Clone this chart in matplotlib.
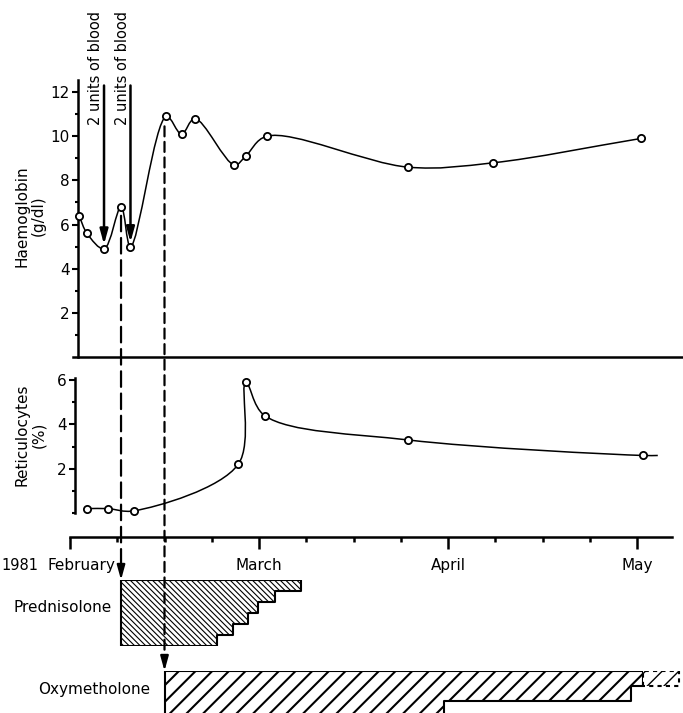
import numpy as np
import matplotlib
matplotlib.use("Agg")
import matplotlib.pyplot as plt
from matplotlib.path import Path
from matplotlib.patches import PathPatch, ConnectionPatch

plt.rcParams["font.family"] = ["DejaVu Sans"]
plt.rcParams["font.size"] = 11

# ---- data (x in months after 1 February 1981) ----
hb_x = [0.048, 0.09, 0.18, 0.27, 0.32, 0.51, 0.59, 0.66, 0.87, 0.93, 1.04, 1.79, 2.24, 3.02]
hb_y = [6.4, 5.6, 4.9, 6.8, 5.0, 10.9, 10.1, 10.8, 8.7, 9.1, 10.0, 8.6, 8.8, 9.9]
blood_idx = [2, 4]  # transfusions: 2 units of blood

retic_x = [0.09, 0.20, 0.34, 0.89, 0.93, 1.03, 1.79, 3.03]
retic_y = [0.2, 0.2, 0.1, 2.2, 5.9, 4.4, 3.3, 2.6]
retic_end = (3.11, 2.6)  # curve continues past the last sample

month_names = ["February", "March", "April", "May"]
month_pos = [0, 1, 2, 3]

pred_start = [0.27, 0.78, 0.86, 0.94, 0.995, 1.085]
pred_dose = [60, 50, 40, 30, 20, 10]
pred_stop = 1.22

oxy_start = [0.50, 1.98, 2.97]
oxy_dose = [150, 100, 50]
oxy_stop = 3.03
oxy_planned = (3.03, 3.22, 50)  # dashed continuation

# ---- figure layout in pixels ----
W, H = 683, 713
X0, PXM = 70, 189.0  # pixel of 1 Feb, pixels per month
fig = plt.figure(figsize=(W / 100, H / 100), dpi=100)


def add_panel(left, right, top, bottom):
    ax = fig.add_axes([left / W, 1 - bottom / H, (right - left) / W, (bottom - top) / H])
    ax.set_xlim((left - X0) / PXM, (right - X0) / PXM)
    ax.patch.set_alpha(0)
    return ax


def smooth_path(xs, ys, sx, sy, alpha=0.5):
    # centripetal Catmull-Rom, drawn as cubic Bezier segments
    P = np.column_stack([np.asarray(xs) * sx, np.asarray(ys) * sy])
    n = len(P)
    ext = np.vstack([2 * P[0] - P[1], P, 2 * P[-1] - P[-2]])
    verts, codes = [P[0]], [Path.MOVETO]
    for i in range(1, n):
        p0, p1, p2, p3 = ext[i - 1], ext[i], ext[i + 1], ext[i + 2]
        d1 = max(np.linalg.norm(p1 - p0) ** alpha, 1e-6)
        d2 = max(np.linalg.norm(p2 - p1) ** alpha, 1e-6)
        d3 = max(np.linalg.norm(p3 - p2) ** alpha, 1e-6)
        b1 = (d1**2 * p2 - d2**2 * p0 + (2 * d1**2 + 3 * d1 * d2 + d2**2) * p1) / (3 * d1 * (d1 + d2))
        b2 = (d3**2 * p1 - d2**2 * p3 + (2 * d3**2 + 3 * d3 * d2 + d2**2) * p2) / (3 * d3 * (d3 + d2))
        verts += [b1, b2, p2]
        codes += [Path.CURVE4] * 3
    verts = np.array(verts) / np.array([sx, sy])
    return Path(verts, codes)


marker_kw = dict(linestyle="none", marker="o", ms=5.2, mfc="white", mec="black", mew=1.3, zorder=4)

# ---- Haemoglobin ----
ax_hb = add_panel(73, 683, 80, 357)
ax_hb.set_ylim(0, 12.55)
for s in ["top", "right"]:
    ax_hb.spines[s].set_visible(False)
ax_hb.spines["left"].set_position(("data", (78 - X0) / PXM))
ax_hb.spines["left"].set_linewidth(1.8)
ax_hb.spines["bottom"].set_linewidth(1.8)
ax_hb.set_xticks([])
ax_hb.set_yticks([2, 4, 6, 8, 10, 12])
ax_hb.set_yticks([1, 3, 5, 7, 9, 11], minor=True)
ax_hb.tick_params(axis="y", which="major", length=4, width=1.5, pad=2, labelsize=11)
ax_hb.tick_params(axis="y", which="minor", length=2.5, width=1.5)
ax_hb.set_ylabel("Haemoglobin\n(g/dl)", fontsize=11, linespacing=1.1)
ax_hb.yaxis.set_label_coords((46 - 73) / 610, 0.51)

ax_hb.add_patch(PathPatch(smooth_path(hb_x, hb_y, PXM, 22.1), fill=False, lw=1.1, color="black"))
ax_hb.plot(hb_x, hb_y, **marker_kw)

for i in blood_idx:
    bx = hb_x[i]
    ax_hb.annotate("", xy=(bx, hb_y[i] + 0.2), xytext=(bx, 12.3),
                   arrowprops=dict(arrowstyle="-|>,head_length=0.8,head_width=0.22",
                                   lw=1.8, color="black", shrinkA=0, shrinkB=0),
                   annotation_clip=False)
    ax_hb.text(bx - 0.004, 10.5, "2 units of blood", rotation=90, ha="right", va="bottom",
               fontsize=10.5, clip_on=False)

# ---- Reticulocytes + time axis ----
ax_rt = add_panel(70, 672, 378, 537)
ax_rt.set_ylim(-1.083, 6.1)
for s in ["top", "right"]:
    ax_rt.spines[s].set_visible(False)
ax_rt.spines["left"].set_position(("data", (75 - X0) / PXM))
ax_rt.spines["left"].set_bounds(0, 6.1)
ax_rt.spines["left"].set_linewidth(1.8)
ax_rt.spines["bottom"].set_linewidth(1.8)
ax_rt.set_yticks([2, 4, 6])
ax_rt.set_yticks([0, 1, 3, 5], minor=True)
ax_rt.tick_params(axis="y", which="major", length=4, width=1.5, pad=2, labelsize=11)
ax_rt.tick_params(axis="y", which="minor", length=2.5, width=1.5)
ax_rt.set_ylabel("Reticulocytes\n(%)", fontsize=11, linespacing=1.1)
ax_rt.yaxis.set_label_coords((46 - 70) / 602, 0.64)

ax_rt.set_xticks(month_pos)
ax_rt.set_xticks([m + q for m in month_pos[:3] for q in (0.25, 0.5, 0.75)], minor=True)
ax_rt.tick_params(axis="x", which="major", length=8.5, width=1.8, labelbottom=False)
ax_rt.tick_params(axis="x", which="minor", length=3.5, width=1.8)

label_x = list(month_pos)
label_x[0] = 0.058
for name, lx in zip(month_names, label_x):
    ax_rt.text(lx, -2.35, name, ha="center", va="center", fontsize=11)
ax_rt.text(-0.265, -2.35, "1981", ha="center", va="center", fontsize=10.5)

ax_rt.add_patch(PathPatch(smooth_path(retic_x + [retic_end[0]], retic_y + [retic_end[1]], PXM, 22.1),
                          fill=False, lw=1.1, color="black"))
ax_rt.plot(retic_x, retic_y, **marker_kw)

# ---- Prednisolone ----
ax_pr = add_panel(70, 683, 580, 646)
ax_pr.set_ylim(60, 0)
ax_pr.axis("off")
pc = ax_pr.fill_between(pred_start + [pred_stop], 0, pred_dose + [pred_dose[-1]], step="post",
                        facecolor="white", edgecolor="black", hatch="\\" * 6, lw=1.5)
if hasattr(pc, "set_hatch_linewidth"):
    pc.set_hatch_linewidth(0.8)
ax_pr.text((112 - X0) / PXM, 25, "Prednisolone", ha="right", va="center", fontsize=11)

# ---- Oxymetholone ----
ax_ox = add_panel(70, 683, 671, 713)
ax_ox.set_ylim(140, 0)
ax_ox.axis("off")
oc = ax_ox.fill_between(oxy_start + [oxy_stop], 0, oxy_dose + [oxy_dose[-1]], step="post",
                        facecolor="white", edgecolor="black", hatch="//", lw=1.5)
if hasattr(oc, "set_hatch_linewidth"):
    oc.set_hatch_linewidth(1.5)
dc = ax_ox.fill_between([oxy_planned[0], oxy_planned[1]], 0, oxy_planned[2],
                        facecolor="white", edgecolor="black", hatch="//", lw=1.5, linestyle=(0, (2, 2)))
if hasattr(dc, "set_hatch_linewidth"):
    dc.set_hatch_linewidth(1.0)
ax_ox.text((150 - X0) / PXM, 63, "Oxymetholone", ha="right", va="center", fontsize=11)

# ---- treatment start markers (dashed drop lines) ----
pred_x, oxy_x = pred_start[0], oxy_start[0]
cp1 = ConnectionPatch(xyA=(pred_x, 6.4), coordsA=ax_hb.transData,
                      xyB=(pred_x, -13), coordsB=ax_pr.transData,
                      lw=1.6, color="black", linestyle=(0, (7, 3)))
fig.add_artist(cp1)
ax_pr.annotate("", xy=(pred_x, 0), xytext=(pred_x, -14),
               arrowprops=dict(arrowstyle="-|>,head_length=0.8,head_width=0.22",
                               lw=1.5, color="black", shrinkA=0, shrinkB=0),
               annotation_clip=False)

cp2 = ConnectionPatch(xyA=(oxy_x, 10.45), coordsA=ax_hb.transData,
                      xyB=(oxy_x, -45), coordsB=ax_ox.transData,
                      lw=1.6, color="black", linestyle=(0, (4.5, 2.5)))
fig.add_artist(cp2)
ax_ox.annotate("", xy=(oxy_x, 0), xytext=(oxy_x, -48),
               arrowprops=dict(arrowstyle="-|>,head_length=0.8,head_width=0.22",
                               lw=1.5, color="black", shrinkA=0, shrinkB=0),
               annotation_clip=False)

fig.savefig("out.png", dpi=100)
